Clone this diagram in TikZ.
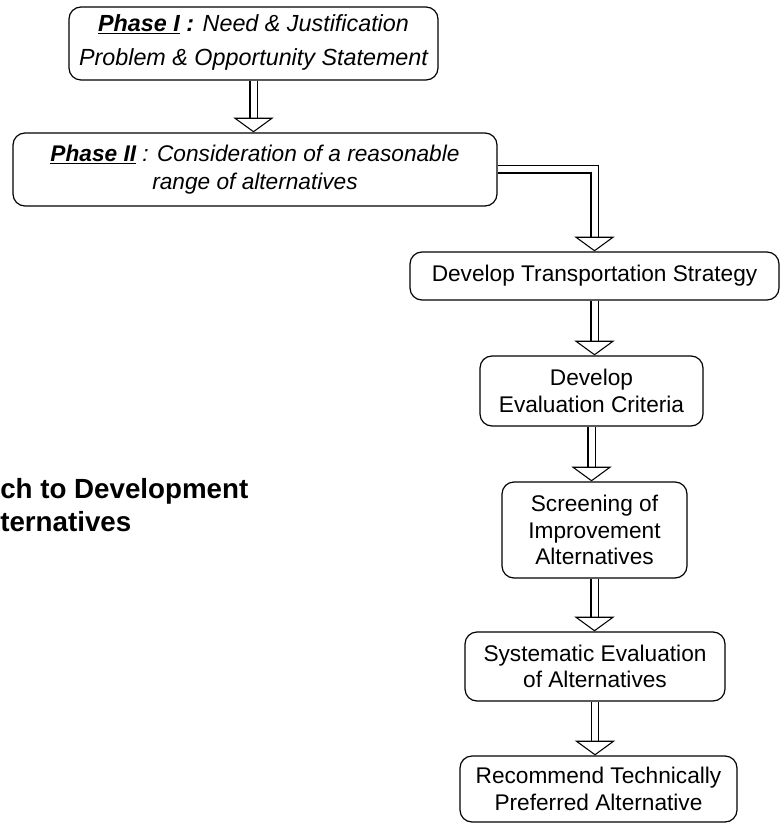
\documentclass[tikz,border=0pt]{standalone}
\usepackage{fontspec}
\setmainfont{Liberation Sans}
\usetikzlibrary{arrows.meta, positioning}

\begin{document}
\begin{tikzpicture}[x=0.75pt, y=-0.75pt,
  box/.style={rectangle, draw=black, line width=0.9pt, rounded corners=9pt, align=center, inner sep=0pt, font=\fontsize{17}{20}\selectfont},
  phase/.style={box, font=\fontsize{17.5}{26}\selectfont\itshape},
  arrow/.style={double, double distance=4.5pt, line width=0.8pt, -{Triangle[open, width=30pt, length=11pt, line width=0.8pt]}}
]
\useasboundingbox (0,0) rectangle (780,823);

\node (phase1) [phase, minimum width=276.75pt, minimum height=54.75pt, text depth=5pt] at (253.5,43.5) {\underline{\textbf{Phase I}}\textbf{ :} Need \& Justification\\Problem \& Opportunity Statement};
\node (phase2) [phase, font=\fontsize{17}{21}\selectfont\itshape, minimum width=363pt, minimum height=54.75pt] at (255,169.5) {\underline{\textbf{Phase II}} : Consideration of a reasonable\\range of alternatives};
\node (strategy) [box, minimum width=276.75pt, minimum height=36pt] at (594.5,276) {Develop Transportation Strategy};
\node (criteria) [box, minimum width=167.25pt, minimum height=52.5pt] at (591.5,391) {Develop\\Evaluation Criteria};
\node (screening) [box, minimum width=138.75pt, minimum height=72pt] at (594.5,530) {Screening of\\Improvement\\Alternatives};
\node (evaluation) [box, minimum width=195pt, minimum height=51.75pt] at (595,666.5) {Systematic Evaluation\\of Alternatives};
\node (recommend) [box, minimum width=207.75pt, minimum height=49.5pt] at (598.5,789) {Recommend Technically\\Preferred Alternative};
\node (title) [anchor=north west, align=left, inner sep=0pt, font=\fontsize{20.8}{25}\selectfont\bfseries] at (0,478) {ch to Development\\ternatives};

\draw[arrow] (phase1.south) -- (phase1.south |- phase2.north);
\draw[arrow] (phase2.east) -| (strategy.north);
\draw[arrow] (strategy.south) -- (strategy.south |- criteria.north);
\draw[arrow] (criteria.south) -- (criteria.south |- screening.north);
\draw[arrow] (screening.south) -- (screening.south |- evaluation.north);
\draw[arrow] (evaluation.south) -- (evaluation.south |- recommend.north);

\end{tikzpicture}
\end{document}
